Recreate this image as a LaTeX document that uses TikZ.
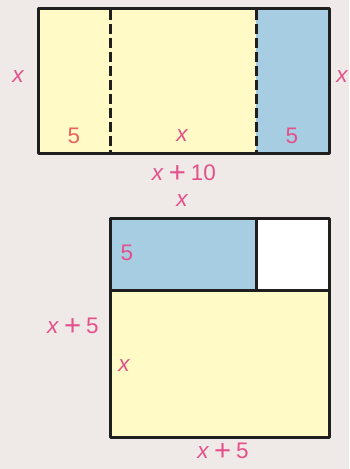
\documentclass[tikz,border=0pt]{standalone}
\usepackage{fontspec}
\setmainfont{Liberation Sans}
\newcommand{\plusgap}{\hspace{5pt}\raisebox{-2.2pt}{\scalebox{1.3}{+}}\hspace{5pt}}
\begin{document}
\begin{tikzpicture}[x=1pt,y=-1pt,
  edge/.style={draw=black!88,line width=3pt,line join=round},
  cut/.style={draw=black!88,line width=3pt,dash pattern=on 9.5pt off 4.5pt},
  lbl/.style={text=labpink,font=\fontsize{22.5}{26}\selectfont,inner sep=0pt},
  lbl5/.style={text=labsalmon,font=\fontsize{22.5}{26}\selectfont,inner sep=0pt}]
\definecolor{bg}{HTML}{EFEAE7}
\definecolor{yel}{HTML}{FFFAC6}
\definecolor{blu}{HTML}{A7CDE2}
\definecolor{labpink}{HTML}{E4508A}
\definecolor{labsalmon}{HTML}{E8645E}
\fill[bg] (0,0) rectangle (349,469);
\useasboundingbox (0,0) rectangle (349,469);
% top rectangle
\fill[yel] (38,8) rectangle (256,153);
\fill[blu] (256,8) rectangle (329,153);
\draw[cut] (110,10) coordinate (d1t) -- (110,152) coordinate (d1b);
\draw[cut] (256,10) coordinate (d2t) -- (256,152) coordinate (d2b);
\draw[edge] (38,8) rectangle (329,153);
\node[lbl] (lx1) at (18,77) {\itshape x};
\node[lbl] (lx2) at (342,77) {\itshape x};
\node[lbl5] (l5a) at (74,136) {5};
\node[lbl] (lxm) at (182,136) {\itshape x};
\node[lbl] (l5b) at (292,136) {5};
\node[lbl] (lx10) at (184,174) {\textit{x}\plusgap 10};
% bottom square
\node[lbl] (lxt) at (182,201) {\itshape x};
\fill[blu] (110,218) rectangle (256,290);
\fill[white] (256,218) rectangle (329,290);
\fill[yel] (110,290) rectangle (329,437);
\draw[edge] (110,218) rectangle (329,437);
\draw[edge] (110,290) -- (329,290);
\draw[edge] (256,218) -- (256,290);
\node[lbl] (l5c) at (127,253) {5};
\node[lbl] (lx5l) at (73,327) {\textit{x}\plusgap 5};
\node[lbl] (lxi) at (124,366) {\itshape x};
\node[lbl] (lx5b) at (223,452) {\textit{x}\plusgap 5};
\end{tikzpicture}
\end{document}
